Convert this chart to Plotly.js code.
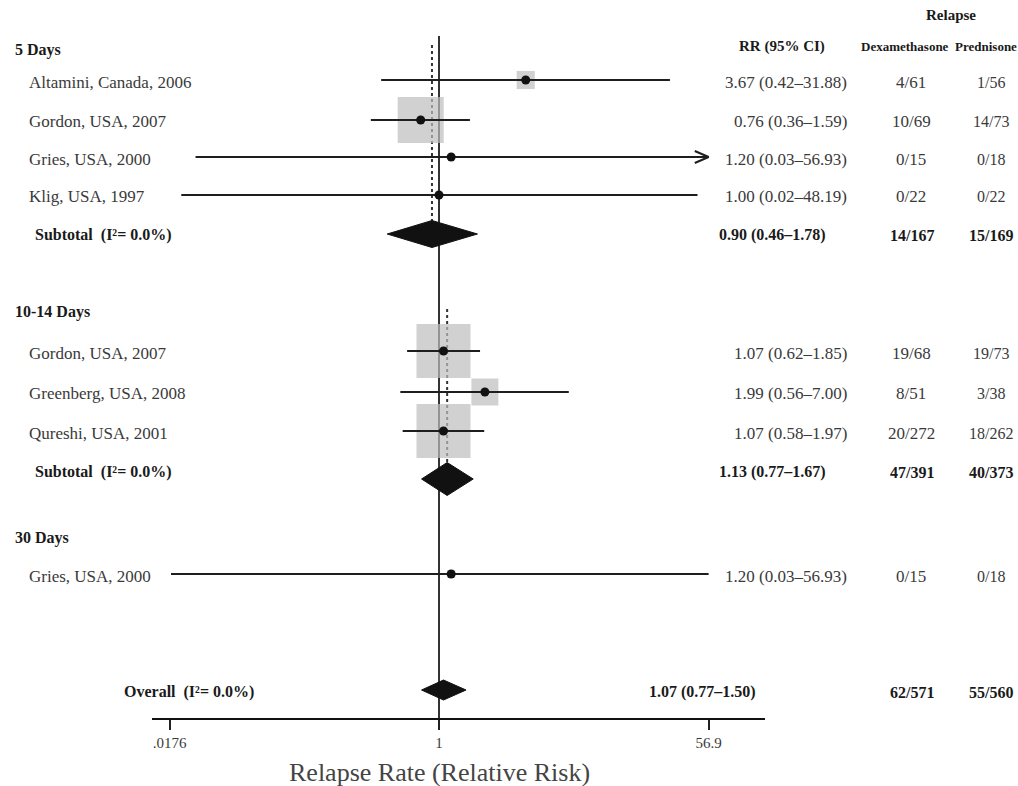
<!DOCTYPE html>
<html>
<head>
<meta charset="utf-8">
<script src="https://cdn.plot.ly/plotly-3.0.1.min.js"></script>
<style>html,body{margin:0;padding:0;background:#fff;}#chart{width:1018px;height:786px;}</style>
</head>
<body>
<div id="chart"></div>
<script>
// ---------------- DATA ----------------
const groupNames = ['5 Days', '10-14 Days', '30 Days'];

const studyLabels = ['Altamini, Canada, 2006', 'Gordon, USA, 2007', 'Gries, USA, 2000', 'Klig, USA, 1997',
                     'Gordon, USA, 2007', 'Greenberg, USA, 2008', 'Qureshi, USA, 2001',
                     'Gries, USA, 2000'];
const studyRR   = [3.67, 0.76, 1.20, 1.00, 1.07, 1.99, 1.07, 1.20];
const studyLow  = [0.42, 0.36, 0.026, 0.021, 0.62, 0.56, 0.58, 0.018];
const studyHigh = [31.88, 1.59, 56.93, 48.19, 1.85, 7.00, 1.97, 56.93];
const studyRRText = ['3.67 (0.42\u201331.88)', '0.76 (0.36\u20131.59)', '1.20 (0.03\u201356.93)', '1.00 (0.02\u201348.19)',
                     '1.07 (0.62\u20131.85)', '1.99 (0.56\u20137.00)', '1.07 (0.58\u20131.97)',
                     '1.20 (0.03\u201356.93)'];
const studyDex  = ['4/61', '10/69', '0/15', '0/22', '19/68', '8/51', '20/272', '0/15'];
const studyPred = ['1/56', '14/73', '0/18', '0/22', '19/73', '3/38', '18/262', '0/18'];
const studyWeight = [3.6, 23.3, 0.1, 0.1, 32.1, 8.0, 32.1, 0.7];   // % weight (box area)
const studyArrowRight = [false, false, true, false, false, false, false, false];

const summaryLabels = ['Subtotal  (I\u00b2= 0.0%)', 'Subtotal  (I\u00b2= 0.0%)', 'Overall  (I\u00b2= 0.0%)'];
const summaryRR   = [0.90, 1.13, 1.07];
const summaryLow  = [0.46, 0.77, 0.77];
const summaryHigh = [1.78, 1.67, 1.50];
const summaryRRText = ['0.90 (0.46\u20131.78)', '1.13 (0.77\u20131.67)', '1.07 (0.77\u20131.50)'];
const summaryDex  = ['14/167', '47/391', '62/571'];
const summaryPred = ['15/169', '40/373', '55/560'];

const tickValues = [0.0176, 1, 56.9];
const tickLabels = ['.0176', '1', '56.9'];

// ---------------- LAYOUT (row positions in px from top, column positions in px) ----------------
const headerRowY  = [50, 312, 538];
const studyRowY   = [80, 120, 157, 195, 351, 392, 431, 574];
const summaryTextY = [235, 472, 692];
const diamondY    = [234, 479, 690];
const diamondHalf = [13.5, 16.5, 10];
const dottedTop   = [45, 309];          // dotted subtotal lines (only for subtotals)
const refLineTop  = 36;
const AXIS_Y = 718;
const PLOT_L = 152, PLOT_R = 765, ONE_PX = 439, PX_PER_DEC = 153.6;

const FONT = 'Liberation Serif, Times New Roman, serif';
const TXT = '#3a3a3a', BOLD = '#1a1a1a';

const lg = v => Math.log10(v);
const px2paper = p => (p - PLOT_L) / (PLOT_R - PLOT_L);
const py2paper = p => (AXIS_Y - p) / AXIS_Y;

// ---------------- TRACES ----------------
const traces = [];

// weight boxes
const boxK = 54 / Math.sqrt(Math.max(...studyWeight));
traces.push({
  type: 'scatter', mode: 'markers',
  x: studyRR.map(lg), y: studyRowY,
  marker: {symbol: 'square', size: studyWeight.map(w => Math.max(2, boxK * Math.sqrt(w))), color: '#bdbdbd', line: {width: 0}},
  hoverinfo: 'skip', showlegend: false, cliponaxis: false
});

// CI lines
const ciX = [], ciY = [];
studyRR.forEach((r, i) => { ciX.push(lg(studyLow[i]), lg(studyHigh[i]), null); ciY.push(studyRowY[i], studyRowY[i], null); });
traces.push({type: 'scatter', mode: 'lines', x: ciX, y: ciY, line: {color: '#1e1e1e', width: 2},
             hoverinfo: 'skip', showlegend: false, cliponaxis: false});

// arrowheads for CIs beyond the drawn axis
const arX = [], arY = [];
studyArrowRight.forEach((a, i) => {
  if (!a) return;
  const tip = lg(studyHigh[i]);
  arX.push(tip - 0.09, tip, tip - 0.09, null);
  arY.push(studyRowY[i] - 6, studyRowY[i], studyRowY[i] + 6, null);
});
traces.push({type: 'scatter', mode: 'lines', x: arX, y: arY, line: {color: '#1e1e1e', width: 2},
             hoverinfo: 'skip', showlegend: false, cliponaxis: false});

// point estimates
traces.push({type: 'scatter', mode: 'markers', x: studyRR.map(lg), y: studyRowY,
             marker: {symbol: 'circle', size: 9, color: '#111'}, hoverinfo: 'skip', showlegend: false, cliponaxis: false});

// summary diamonds
summaryRR.forEach((r, i) => {
  traces.push({
    type: 'scatter', mode: 'lines', fill: 'toself', fillcolor: '#111',
    x: [lg(summaryLow[i]), lg(r), lg(summaryHigh[i]), lg(r), lg(summaryLow[i])],
    y: [diamondY[i], diamondY[i] - diamondHalf[i], diamondY[i], diamondY[i] + diamondHalf[i], diamondY[i]],
    line: {color: '#111', width: 1}, hoverinfo: 'skip', showlegend: false
  });
});

// ---------------- SHAPES ----------------
const shapes = [];
shapes.push({type: 'line', xref: 'x', yref: 'y', x0: 0, x1: 0, y0: refLineTop, y1: AXIS_Y + 4,
             line: {color: '#333', width: 2}, layer: 'below'});
dottedTop.forEach((t, i) => {
  shapes.push({type: 'line', xref: 'x', yref: 'y', x0: lg(summaryRR[i]), x1: lg(summaryRR[i]),
               y0: t, y1: diamondY[i] - diamondHalf[i], line: {color: '#333', width: 2, dash: 'dot'}, layer: 'below'});
});

// ---------------- ANNOTATIONS ----------------
const ann = [];
function txt(text, xpx, y, anchor, opts) {
  opts = opts || {};
  ann.push({
    text: text, xref: 'paper', yref: 'paper', x: px2paper(xpx), y: py2paper(y),
    xanchor: anchor, yanchor: 'middle', showarrow: false,
    font: {family: FONT, size: opts.size || 17, color: opts.color || TXT, weight: opts.bold ? 'bold' : 'normal'}
  });
}
// column headers
txt('Relapse', 951, 15, 'center', {bold: true, size: 15, color: BOLD});
txt('RR (95% CI)', 782, 46, 'center', {bold: true, size: 15, color: BOLD});
txt('Dexamethasone', 905, 46, 'center', {bold: true, size: 13, color: BOLD});
txt('Prednisone', 953, 46, 'left', {bold: true, size: 13, color: BOLD});

groupNames.forEach((g, i) => txt(g, 13, headerRowY[i], 'left', {bold: true, color: BOLD, size: 16}));
studyLabels.forEach((s, i) => {
  txt(s, 27, studyRowY[i] + 2, 'left');
  txt(studyRRText[i], 849, studyRowY[i] + 2, 'right');
  txt(studyDex[i], 911, studyRowY[i] + 2, 'center');
  txt(studyPred[i], 991, studyRowY[i] + 2, 'center', {size: 16});
});
const sumLabelX = [33, 33, 122];
const sumRRRight = [828, 828, 758];
summaryLabels.forEach((s, i) => {
  txt(s, sumLabelX[i], summaryTextY[i], 'left', {bold: true, color: BOLD, size: 16});
  txt(summaryRRText[i], sumRRRight[i], summaryTextY[i], 'right', {bold: true, color: BOLD, size: 16});
  txt(summaryDex[i], 912, summaryTextY[i], 'center', {bold: true, color: BOLD, size: 16});
  txt(summaryPred[i], 991, summaryTextY[i], 'center', {bold: true, color: BOLD, size: 16});
});
// axis title (centred on RR = 1)
ann.push({text: 'Relapse Rate (Relative Risk)', xref: 'x', yref: 'paper', x: 0, y: py2paper(772), xanchor: 'center', yanchor: 'middle',
          showarrow: false, font: {family: FONT, size: 26, color: '#444'}});

const layout = {
  width: 1018, height: 786,
  margin: {l: PLOT_L, r: 1018 - PLOT_R, t: 0, b: 786 - AXIS_Y, pad: 0},
  paper_bgcolor: '#fff', plot_bgcolor: '#fff',
  showlegend: false,
  xaxis: {
    range: [(PLOT_L - ONE_PX) / PX_PER_DEC, (PLOT_R - ONE_PX) / PX_PER_DEC],
    tickmode: 'array', tickvals: tickValues.map(lg), ticktext: tickLabels,
    ticks: 'outside', ticklen: 10, tickwidth: 2, tickcolor: '#222',
    showline: true, linecolor: '#111', linewidth: 2, showgrid: false, zeroline: false,
    tickfont: {family: FONT, size: 15, color: '#3a3a3a'}, fixedrange: true
  },
  yaxis: {range: [AXIS_Y, 0], visible: false, showgrid: false, zeroline: false, fixedrange: true},
  shapes: shapes,
  annotations: ann
};

Plotly.newPlot('chart', traces, layout, {staticPlot: true, displayModeBar: false});
</script>
</body>
</html>
